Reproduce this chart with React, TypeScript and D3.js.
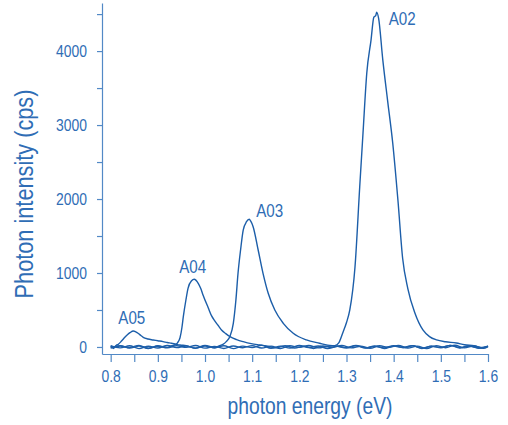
import React, { useEffect, useRef } from 'react';
import * as d3 from 'd3';

// photon energy ticks (eV) and count ticks (cps)
const energyTicks = [0.8, 0.9, 1.0, 1.1, 1.2, 1.3, 1.4, 1.5, 1.6];
const energyMinor = [0.85, 0.95, 1.05, 1.15, 1.25, 1.35, 1.45, 1.55];
const countTicks = [0, 1000, 2000, 3000, 4000];
const countMinor = [500, 1500, 2500, 3500, 4500];

// spectra: [energy eV, counts]
const a05: [number, number][] = [
  [0.8, 14], [0.806, -20], [0.812, 24], [0.816, 36], [0.823, 80], [0.83, 131], [0.836, 168],
  [0.841, 193], [0.848, 216], [0.853, 205], [0.858, 185], [0.864, 155], [0.869, 131],
  [0.879, 108], [0.89, 95], [0.9, 84], [0.911, 72], [0.92, 60], [0.929, 50], [0.938, 38],
  [0.947, 27], [0.96, 18], [0.98, -16], [1.0, 22], [1.02, -10], [1.04, 16], [1.06, -22],
  [1.08, 12], [1.1, -8], [1.12, 24], [1.14, -18], [1.16, 10], [1.18, -14], [1.2, 20], [1.22, -8],
  [1.24, 14], [1.26, -22], [1.28, 10], [1.3, -6], [1.32, 22], [1.34, -16], [1.36, 8], [1.38, -12],
  [1.4, 18], [1.42, -10], [1.44, 16], [1.46, -20], [1.48, 10], [1.5, -6], [1.52, 22], [1.54, -14],
  [1.56, 12], [1.58, -18], [1.6, 8],
];
const a04: [number, number][] = [
  [0.8, -10], [0.82, 18], [0.84, -16], [0.86, 12], [0.88, -20], [0.9, 16], [0.92, -6],
  [0.93, 18], [0.937, 32], [0.942, 60], [0.947, 125], [0.951, 260], [0.954, 410], [0.9595, 635],
  [0.964, 793], [0.9716, 896], [0.977, 915], [0.9856, 860], [0.991, 790], [0.996, 700],
  [1.0068, 530], [1.014, 420], [1.021, 350], [1.028, 290], [1.035, 230], [1.044, 180],
  [1.053, 139], [1.067, 100], [1.081, 72], [1.098, 45], [1.116, 27], [1.13, 14], [1.15, -12],
  [1.17, 18], [1.19, -16], [1.21, 10], [1.23, -20], [1.25, 14], [1.27, -8], [1.29, 22],
  [1.31, -12], [1.33, 10], [1.35, -18], [1.37, 16], [1.39, -6], [1.41, 20], [1.43, -14],
  [1.45, 12], [1.47, -22], [1.49, 18], [1.51, -10], [1.53, 24], [1.55, -12], [1.57, 14],
  [1.59, -18], [1.6, 6],
];
const a03: [number, number][] = [
  [0.8, 18], [0.82, -12], [0.84, 16], [0.86, -22], [0.88, 10], [0.9, -14], [0.92, 20],
  [0.94, -8], [0.96, 14], [0.98, -18], [1.0, 12], [1.02, -10], [1.03, 15], [1.038, 35],
  [1.045, 72], [1.053, 145], [1.06, 320], [1.0655, 635], [1.07, 996], [1.0754, 1311],
  [1.081, 1581], [1.088, 1693], [1.0937, 1726], [1.097, 1700], [1.102, 1626], [1.1127, 1311],
  [1.123, 996], [1.134, 726], [1.148, 500], [1.166, 320], [1.187, 185], [1.215, 95],
  [1.243, 50], [1.26, 25], [1.28, 12], [1.3, -16], [1.32, 18], [1.34, -10], [1.36, 14],
  [1.38, -20], [1.4, 12], [1.42, -6], [1.44, 18], [1.46, -16], [1.48, 12], [1.5, -10],
  [1.52, 22], [1.54, -8], [1.56, 16], [1.58, -14], [1.6, 10],
];
const a02: [number, number][] = [
  [0.8, -16], [0.82, 14], [0.84, -8], [0.86, 22], [0.88, -18], [0.9, 10], [0.92, -12],
  [0.94, 18], [0.96, -6], [0.98, 20], [1.0, -16], [1.02, 8], [1.04, -20], [1.06, 14],
  [1.08, -10], [1.1, 18], [1.12, -14], [1.14, 12], [1.16, -22], [1.18, 16], [1.2, -6],
  [1.22, 20], [1.24, -12], [1.26, 10], [1.275, 18], [1.284, 60], [1.292, 189], [1.3, 330],
  [1.307, 500], [1.318, 1081], [1.328, 2162], [1.335, 2892], [1.343, 3703], [1.352, 4149],
  [1.358, 4459], [1.362, 4480], [1.364, 4527], [1.368, 4446], [1.377, 3878], [1.387, 3338],
  [1.398, 2757], [1.409, 1986], [1.419, 1200], [1.43, 790], [1.445, 459], [1.462, 230],
  [1.476, 140], [1.491, 95], [1.51, 70], [1.533, 54], [1.55, 30], [1.57, 16], [1.59, -10],
  [1.6, 12],
];

const seriesNames = ['A05', 'A04', 'A03', 'A02'];
const seriesData = [a05, a04, a03, a02];
// label offset from each peak, in px
const labelOffsets = [[-15, -7], [-15, -6], [7, -2], [12, 13]];

const textColor = '#2f6db5';
const axisColor = '#5289c6';
const lineColor = '#1c5ea9';
const font = '"Liberation Sans", Arial, sans-serif';
const narrow = 0.82; // horizontal squeeze to get a Helvetica Narrow look

export default function App() {
  const svgRef = useRef<SVGSVGElement>(null);
  const width = 508;
  const height = 425;

  const x = d3.scaleLinear().domain([0.7816, 1.6]).range([102, 488]);
  const y = d3.scaleLinear().domain([-95, 4650]).range([354, 3]);

  useEffect(() => {
    if (!svgRef.current) return;
    const svg = d3.select(svgRef.current);
    svg.selectAll('*').remove();

    const line = d3.line<[number, number]>()
      .x((d) => x(d[0]))
      .y((d) => y(d[1]))
      .curve(d3.curveMonotoneX);

    const g = svg.append('g');
    seriesData.forEach((s) => {
      g.append('path')
        .attr('d', line(s) || '')
        .attr('fill', 'none')
        .attr('stroke', lineColor)
        .attr('stroke-width', 1.4);
    });

    // x axis
    const xAxis = svg.append('g').attr('transform', `translate(0, ${y(-95)})`);
    xAxis.call(d3.axisBottom(x).tickValues(energyTicks).tickSize(8).tickSizeOuter(0).tickFormat(d3.format('.1f')));
    const xMinor = svg.append('g').attr('transform', `translate(0, ${y(-95)})`);
    xMinor.call(d3.axisBottom(x).tickValues(energyMinor).tickSize(8).tickSizeOuter(0).tickFormat(() => ''));
    xMinor.select('.domain').remove();

    // y axis
    const yAxis = svg.append('g').attr('transform', `translate(${x(0.7816)}, 0)`);
    yAxis.call(d3.axisLeft(y).tickValues(countTicks).tickSize(5).tickSizeOuter(0).tickFormat(d3.format('d')));
    const yMinor = svg.append('g').attr('transform', `translate(${x(0.7816)}, 0)`);
    yMinor.call(d3.axisLeft(y).tickValues(countMinor).tickSize(5).tickSizeOuter(0).tickFormat(() => ''));
    yMinor.select('.domain').remove();

    svg.selectAll('.domain, .tick line').attr('stroke', axisColor).attr('stroke-width', 1.2);
    svg.selectAll('.tick text')
      .attr('fill', textColor)
      .attr('font-family', font)
      .attr('font-size', 17)
      .attr('transform', `scale(${narrow}, 1)`);
    xAxis.selectAll('.tick text').attr('y', 12).attr('dy', '0.95em');
    yAxis.selectAll('.tick text').attr('x', -15 / narrow);

    // peak labels
    seriesData.forEach((s, i) => {
      const peak = s.reduce((a, b) => (b[1] > a[1] ? b : a));
      svg.append('text')
        .attr('transform',
          `translate(${x(peak[0]) + labelOffsets[i][0]}, ${y(peak[1]) + labelOffsets[i][1]}) scale(${narrow}, 1)`)
        .attr('fill', textColor)
        .attr('font-family', font)
        .attr('font-size', 18.5)
        .text(seriesNames[i]);
    });

    // axis titles
    svg.append('text')
      .attr('transform', `translate(33, 194) rotate(-90) scale(${narrow}, 1)`)
      .attr('text-anchor', 'middle')
      .attr('fill', textColor)
      .attr('font-family', font)
      .attr('font-size', 26.5)
      .text('Photon intensity (cps)');

    svg.append('text')
      .attr('transform', `translate(310, 414) scale(${narrow}, 1)`)
      .attr('text-anchor', 'middle')
      .attr('fill', textColor)
      .attr('font-family', font)
      .attr('font-size', 23.5)
      .text('photon energy (eV)');
  }, []);

  return (
    <div style={{ position: 'absolute', left: 0, top: 0, background: '#fff' }}>
      <svg ref={svgRef} width={width} height={height} style={{ display: 'block' }} />
    </div>
  );
}
